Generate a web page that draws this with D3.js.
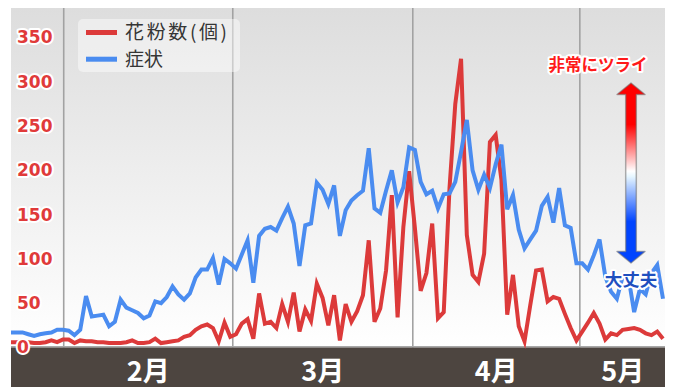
<!DOCTYPE html>
<html><head><meta charset="utf-8">
<script src="https://cdn.jsdelivr.net/npm/d3@7"></script>
<style>html,body{margin:0;padding:0;background:#fff;} svg{display:block}</style>
</head><body>
<svg id="c" width="675" height="387"></svg>
<script>
// ---- data ----
const pollen = [6,6,7,6,5,5,6,8,6,9,9,5,8,7,7,6,6,5,5,5,6,8,5,5,6,10,5,6,7,8,
  12,14,20,24,26,22,7,28,12,15,27,32,10,61,27,29,22,49,29,62,18,43,30,72,56,25,59,8,49,29,
  41,59,121,29,44,87,172,34,136,199,135,64,84,140,33,40,180,275,326,127,82,74,106,232,240,189,37,82,24,7,
  48,87,88,52,57,55,38,22,8,18,28,39,27,9,16,14,20,21,22,20,16,14,18,10];
const symptom = [17,17,17,15,13,15,16,17,20,20,19,14,20,58,35,36,37,24,29,54,45,42,39,33,36,52,50,57,69,60,
  54,61,79,88,88,101,71,100,95,89,105,121,73,126,134,136,132,146,159,140,92,138,140,186,178,162,183,126,155,166,
  172,177,225,157,152,177,200,164,181,226,223,187,173,177,157,173,174,187,221,257,200,178,195,180,207,229,156,172,133,112,
  122,132,160,170,141,180,138,135,95,95,88,104,122,80,63,55,80,80,40,66,60,84,93,55];
const yTicks = [0,50,100,150,200,250,300,350];
const monthStarts = [9.05, 38.35, 69.55, 98.5];   // index positions of month boundaries
const monthLabels = ["2月","3月","4月","5月"];
const seriesNames = ["花粉数(個)","症状"];
const scaleLabels = ["非常にツライ","大丈夫"];

// ---- layout ----
const P = {left:11, right:665, top:8, bottom:347.5};
const RED = "#dc3a3a", BLUE = "#4a8cf0";
const svg = d3.select("#c");
const x = d3.scaleLinear().domain([0, pollen.length-1]).range([11, 663]);
const y = d3.scaleLinear().domain([0,350]).range([347.5, 37.5]);

const defs = svg.append("defs");
const bg = defs.append("linearGradient").attr("id","bg").attr("x1",0).attr("y1",0).attr("x2",0).attr("y2",1);
bg.append("stop").attr("offset","0%").attr("stop-color","#dddddd");
bg.append("stop").attr("offset","100%").attr("stop-color","#ffffff");
const ag = defs.append("linearGradient").attr("id","ag").attr("gradientUnits","userSpaceOnUse")
  .attr("x1",0).attr("y1",83).attr("x2",0).attr("y2",263);
[["0%","#ff0000"],["23%","#ff0000"],["49%","#ffffff"],["52%","#e6f6ff"],["77%","#0044ff"],["100%","#0044ff"]]
  .forEach(s=>ag.append("stop").attr("offset",s[0]).attr("stop-color",s[1]));

svg.append("rect").attr("x",P.left).attr("y",P.top).attr("width",P.right-P.left).attr("height",P.bottom-P.top)
  .attr("fill","url(#bg)");

// month gridlines via axis
const gx = svg.append("g").attr("transform",`translate(0,${P.bottom})`)
  .call(d3.axisBottom(x).tickValues(monthStarts).tickSize(-(P.bottom-P.top)).tickFormat(""));
gx.select(".domain").remove();
gx.selectAll("line").attr("stroke","#a2a2a2").attr("stroke-width",1.6);

// bottom band
svg.append("rect").attr("x",P.left).attr("y",P.bottom-1.5).attr("width",P.right-P.left).attr("height",1.5).attr("fill","#a8a8a8");
svg.append("rect").attr("x",P.left).attr("y",P.bottom).attr("width",P.right-P.left).attr("height",387-P.bottom).attr("fill","#4d4540");

// month labels at centers of month spans
const bounds = monthStarts.concat([x.invert(P.right)]);
const mids = monthStarts.map((m,i)=>(m+bounds[i+1])/2);
const ml = svg.append("g").attr("transform",`translate(0,${P.bottom})`)
  .call(d3.axisBottom(x).tickValues(mids).tickSize(0).tickPadding(0).tickFormat((d,i)=>monthLabels[i]));
ml.select(".domain").remove();
ml.selectAll("text").attr("y",33).attr("dy",0).attr("fill","#ffffff")
  .attr("font-family","'Noto Sans CJK JP', sans-serif").attr("font-size",27).attr("font-weight","bold");

// lines
const line = d3.line().x((d,i)=>x(i)).y(d=>y(d));
svg.append("path").datum(pollen).attr("d",line).attr("fill","none").attr("stroke",RED).attr("stroke-width",4);
svg.append("path").datum(symptom).attr("d",line).attr("fill","none").attr("stroke",BLUE).attr("stroke-width",4);

// y labels
const gy = svg.append("g").attr("transform","translate(17,0)")
  .call(d3.axisRight(y).tickValues(yTicks).tickSize(0).tickPadding(0));
gy.select(".domain").remove();
gy.selectAll("text").attr("fill","#e03a3a").attr("stroke","#ffffff").attr("stroke-width",4)
  .attr("stroke-linejoin","round").attr("paint-order","stroke")
  .attr("font-family","'DejaVu Sans', sans-serif").attr("font-size",17).attr("font-weight","bold");

// legend
const lg = svg.append("g");
lg.append("rect").attr("x",78).attr("y",19).attr("width",162).attr("height",53).attr("rx",5)
  .attr("fill","rgba(255,255,255,0.45)");
[RED,BLUE].forEach((c,i)=>{
  const yy = 32.5 + i*26.7;
  lg.append("line").attr("x1",86).attr("x2",117).attr("y1",yy).attr("y2",yy).attr("stroke",c).attr("stroke-width",5);
  const t = lg.append("text").attr("x",125).attr("y",yy).attr("dy","0.36em").attr("fill","#353535")
    .attr("font-family","'Noto Sans CJK JP', sans-serif").attr("font-size",19).text(seriesNames[i]);
  if(i===0) t.attr("textLength",102).attr("lengthAdjust","spacing");
});

// gradient arrow
const cx = 631, hw = 14, sw = 5.3;
const ap = d3.path();
ap.moveTo(cx,83); ap.lineTo(cx+hw,94.5); ap.lineTo(cx+sw,94.5); ap.lineTo(cx+sw,251.5);
ap.lineTo(cx+hw,251.5); ap.lineTo(cx,263); ap.lineTo(cx-hw,251.5); ap.lineTo(cx-sw,251.5);
ap.lineTo(cx-sw,94.5); ap.lineTo(cx-hw,94.5); ap.closePath();
svg.append("path").attr("d",ap.toString()).attr("fill","url(#ag)")
  .attr("stroke","rgba(110,110,110,0.55)").attr("stroke-width",1.5).attr("stroke-linejoin","round");

svg.append("text").attr("x",598).attr("y",65).attr("dy","0.36em").attr("text-anchor","middle")
  .attr("fill","#ff1a1a").attr("stroke","#fff").attr("stroke-width",4).attr("stroke-linejoin","round")
  .attr("paint-order","stroke").attr("font-family","'Noto Sans CJK JP', sans-serif")
  .attr("font-size",16.5).attr("font-weight","bold").text(scaleLabels[0]);
svg.append("text").attr("x",631).attr("y",280).attr("dy","0.36em").attr("text-anchor","middle")
  .attr("fill","#1f4fbf").attr("stroke","#fff").attr("stroke-width",4).attr("stroke-linejoin","round")
  .attr("paint-order","stroke").attr("font-family","'Noto Sans CJK JP', sans-serif")
  .attr("font-size",17.5).attr("font-weight","bold").text(scaleLabels[1]);
</script>
</body></html>
